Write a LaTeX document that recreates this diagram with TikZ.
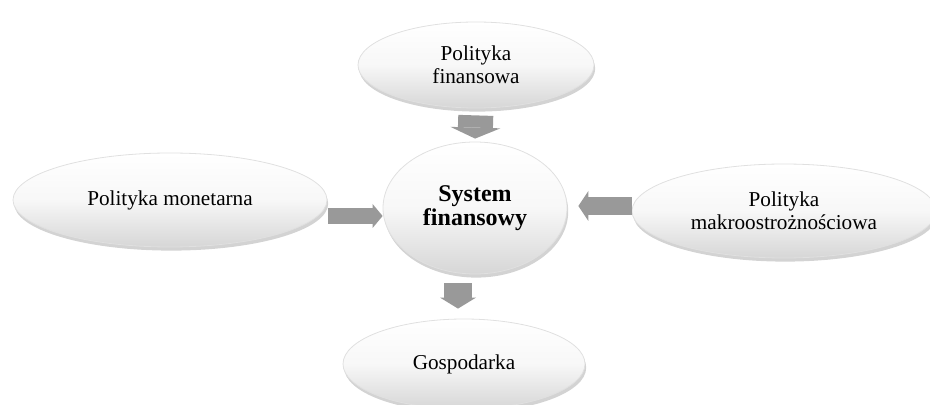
\documentclass[tikz,border=0pt]{standalone}
\usepackage{fontspec}
\setmainfont{Liberation Serif}
\usetikzlibrary{shapes.geometric,shadows,arrows.meta}

\begin{document}
\begin{tikzpicture}[x=0.5pt,y=-0.5pt]
      \tikzstyle{bubble}=[ellipse, inner sep=0pt, align=center,
        draw=black!12, line width=0.4pt,
        top color=white, bottom color=black!16, middle color=black!3,
        drop shadow={shadow xshift=0.6pt, shadow yshift=-1.8pt, opacity=0.35},
        font=\fontsize{10.6}{11.5}\selectfont];
      \tikzstyle{flow}=[draw=black!40, line cap=butt];
      \useasboundingbox (0,0) rectangle (930,405);
      \node (pf) at (476,65) [style=bubble, minimum width=118pt, minimum height=43pt] {Polityka\\finansowa};
      \node (sys) at (475,208) [style=bubble, minimum width=92pt, minimum height=66pt,
        font=\fontsize{12}{12}\selectfont\bfseries] {System\\finansowy};
      \node (pm) at (170,200) [style=bubble, minimum width=157pt, minimum height=47pt] {Polityka monetarna};
      \node (prm) at (784,211) [style=bubble, minimum width=152pt, minimum height=47pt] {Polityka\\makroostrożnościowa};
      \node (gd) at (464,364) [style=bubble, minimum width=121pt, minimum height=45pt] {Gospodarka};
      \draw[style=flow, line width=17.5pt, -{Triangle[width=25pt,length=5.5pt,line width=0pt]},
        shorten <=3.5pt, shorten >=1.5pt] (pf.south) -- (sys.north);
      \draw[style=flow, line width=8pt, -{Triangle[width=12pt,length=5pt,line width=0pt]},
        shorten <=0.5pt] ([yshift=-8pt]pm.east) -- ([yshift=-4pt]sys.west);
      \draw[style=flow, line width=9pt, -{Triangle[width=15pt,length=5pt,line width=0pt]},
        shorten >=5.5pt] ([yshift=2.5pt]prm.west) -- ([yshift=1pt]sys.east);
      \draw[style=flow, line width=14pt, -{Triangle[width=18pt,length=5.5pt,line width=0pt]},
        shorten <=4.5pt, shorten >=5pt] ([xshift=-8.5pt]sys.south) -- ([xshift=-3pt]gd.north);
    \end{tikzpicture}
\end{document}
